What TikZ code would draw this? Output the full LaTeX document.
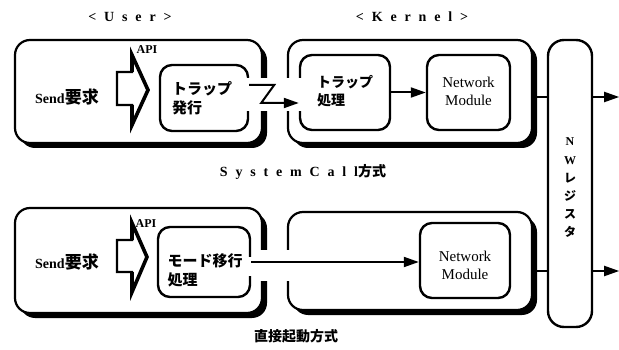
\documentclass[tikz,border=0pt]{standalone}
\usepackage{fontspec}
\setmainfont{Liberation Serif}
\newfontfamily\jpfont{Noto Sans CJK JP}
\newfontfamily\spfont{Liberation Serif}[LetterSpace=56]
\usetikzlibrary{arrows.meta,shadows}
\newcommand{\jp}[1]{{\jpfont\bfseries #1}}
\tikzset{
	caja/.style={draw, line width=2.2pt, rounded corners=15pt, fill=white,
		drop shadow={shadow xshift=5pt, shadow yshift=-5pt, fill=black, opacity=1}},
	bloque/.style={draw, line width=2.4pt, rounded corners=12pt},
	flecha/.style={line width=2pt, -{Triangle[length=15pt,width=10pt]}},
	linea/.style={line width=2pt},
	api/.style={draw, line width=2.4pt, fill=white, line join=miter},
	punta/.style={line width=3.6pt, line join=miter},
	texto/.style={inner sep=0pt, font=\fontsize{14}{18}\selectfont, align=center},
	jptexto/.style={inner sep=0pt, font=\fontsize{15}{19}\selectfont\jpfont\bfseries, align=left},
	titulo/.style={inner sep=0pt, font=\fontsize{14}{17}\selectfont\spfont\bfseries}
}

\begin{document}
\begin{tikzpicture}[x=1pt, y=-1pt]
	\useasboundingbox (0,0) rectangle (619,350);

	%Cajas grandes User / Kernel
	\node[caja, minimum width=247pt, minimum height=103pt] (userA) at (138.5,91.5) {};
	\node[caja, minimum width=244pt, minimum height=103pt] (kernA) at (410,91.5) {};
	\node[caja, minimum width=247pt, minimum height=105pt] (userB) at (138.5,260.5) {};
	\node[caja, minimum width=244pt, minimum height=98pt] (kernB) at (410,261) {};

	%Cajas interiores
	\node[bloque, minimum width=88pt, minimum height=66pt] (hatsu) at (204,98) {};
	\node[bloque, minimum width=90pt, minimum height=75pt] (shori) at (345,92.5) {};
	\node[bloque, minimum width=83pt, minimum height=75pt] (nmA) at (468.5,92.5) {};
	\node[bloque, minimum width=92pt, minimum height=70pt] (mode) at (204,262) {};
	\node[bloque, minimum width=90pt, minimum height=75pt] (nmB) at (465,260.5) {};

	%Registro NW
	\node[bloque, rounded corners=16pt, minimum width=44pt, minimum height=287pt] (nw) at (570,183.5) {};

	%Huecos en los bordes
	\fill[white] (243,78) rectangle (304,111);
	\fill[white] (255,250) rectangle (295,281);
	\fill[white] (245,257) rectangle (256,276);

	%Flechas API
	\draw[api] (117,72) -- (132,72) -- (132,55) -- (148,90) -- (132,125) -- (132,105) -- (117,105) -- cycle;
	\draw[punta] (132,72) -- (132,55) -- (148,90) -- (132,125) -- (132,105);
	\draw[api] (117,240) -- (132,240) -- (132,223) -- (147,257) -- (132,292) -- (132,272) -- (117,272) -- cycle;
	\draw[punta] (132,240) -- (132,223) -- (147,257) -- (132,292) -- (132,272);

	%Conexiones
	\draw[flecha] ([yshift=13pt]hatsu.east) -- ++(25,0) -- ++(-13,18) -- ([yshift=-10.5pt]shori.west);
	\draw[flecha] (shori.east) -- (nmA.west);
	\draw[flecha] (mode.east) -- (mode.east -| nmB.west);
	\coordinate (salA) at ([yshift=-5.5pt]kernA.east);
	\coordinate (salB) at ([yshift=-10pt]kernB.east);
	\draw[linea] (salA) -- (salA -| nw.west);
	\draw[linea] (salB) -- (salB -| nw.west);
	\draw[flecha] (salA -| nw.east) -- ++(26,0);
	\draw[flecha] (salB -| nw.east) -- ++(26,0);

	%Textos
	\node[titulo] (tuser) at (130,17) {<User>};
	\node[titulo] (tkern) at (412,17) {<Kernel>};
	\node[texto] (sendA) at (67,97) {\textbf{Send}{\fontsize{17}{20}\selectfont\jp{要求}}};
	\node[texto] (sendB) at (67,262) {\textbf{Send}{\fontsize{17}{20}\selectfont\jp{要求}}};
	\node[texto, font=\fontsize{12}{14}\selectfont\bfseries] (apiA) at (147,50) {API};
	\node[texto, font=\fontsize{12}{14}\selectfont\bfseries] (apiB) at (146,224) {API};
	\node[jptexto] (thatsu) at (202,98) {トラップ\\発行};
	\node[jptexto, font=\fontsize{14}{18}\selectfont\jpfont\bfseries] (tshori) at (345,91) {トラップ\\処理};
	\node[texto, font=\fontsize{15}{18}\selectfont] (tnmA) at (468.5,91) {Network\\Module};
	\node[jptexto] (tmode) at (205,270) {モード移行\\処理};
	\node[texto, font=\fontsize{15}{18}\selectfont] (tnmB) at (465,265) {Network\\Module};
	\node[titulo] (tsys) at (303,172) {SystemCall\jp{方式}};
	\node[jptexto, font=\fontsize{14}{17}\selectfont\jpfont\bfseries] (tchok) at (296,336) {直接起動方式};
	\node[texto, font=\fontsize{12}{18.2}\selectfont\bfseries] (tnw) at (570,188) {N\\W\\\jp{レ}\\\jp{ジ}\\\jp{ス}\\\jp{タ}};
\end{tikzpicture}
\end{document}
